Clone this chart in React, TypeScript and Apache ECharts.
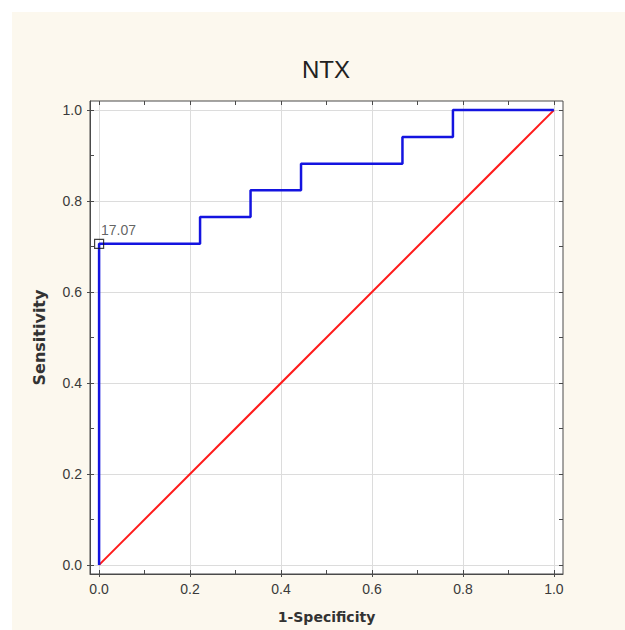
import React, { useEffect, useRef } from "react";
import * as echarts from "echarts";

const chartTitle = "NTX";
const xAxisName = "1-Specificity";
const yAxisName = "Sensitivity";

// ROC curve corner points (1-specificity, sensitivity)
const rocX = [0, 0, 0.222, 0.222, 0.333, 0.333, 0.444, 0.444, 0.667, 0.667, 0.778, 0.778, 1.0];
const rocY = [0, 0.706, 0.706, 0.765, 0.765, 0.824, 0.824, 0.882, 0.882, 0.941, 0.941, 1.0, 1.0];

// reference diagonal
const diagX = [0, 1];
const diagY = [0, 1];

// cut-off marker
const cutX = [0];
const cutY = [0.706];
const cutLabel = ["17.07"];

const majorTicks = [0, 0.2, 0.4, 0.6, 0.8, 1.0];
const minorTicks = [0, 0.1, 0.2, 0.3, 0.4, 0.5, 0.6, 0.7, 0.8, 0.9, 1.0];

export default function App() {
  const ref = useRef<HTMLDivElement>(null);

  useEffect(() => {
    if (!ref.current) return;
    const chart = echarts.init(ref.current, null, { renderer: "svg" });
    const labelFont = { fontFamily: "Liberation Sans, Arial, sans-serif", fontSize: 14, color: "#3a3a3a" };
    const frameColor = "#4a4a4a";

    const mkAxis = (pos: string, primary: boolean, name?: string) => ({
      type: "value",
      position: pos,
      min: -0.02,
      max: 1.02,
      name: name,
      nameLocation: "middle",
      nameGap: pos === "bottom" ? 36 : 43,
      nameTextStyle: {
        fontFamily: "DejaVu Sans, Verdana, sans-serif",
        fontWeight: "bold",
        fontSize: pos === "bottom" ? 14 : 16,
        color: "#333",
      },
      axisLine: { show: primary, onZero: false, lineStyle: { color: frameColor, width: 1 } },
      axisTick: primary
        ? { show: true, inside: false, length: 3, customValues: majorTicks, lineStyle: { color: frameColor } }
        : { show: true, inside: true, length: 4, customValues: minorTicks, lineStyle: { color: frameColor } },
      axisLabel: primary
        ? { show: true, customValues: majorTicks, margin: 8, formatter: (v: number) => v.toFixed(1), ...labelFont }
        : { show: false },
      splitLine: primary
        ? { show: true, lineStyle: { color: "#dcdcdc", width: 1 } }
        : { show: false },
    });

    const option: any = {
      animation: false,
      backgroundColor: "transparent",
      grid: {
        left: 90,
        top: 101,
        right: 62,
        bottom: 56,
        show: true,
        backgroundColor: "#ffffff",
        borderColor: frameColor,
        borderWidth: 1,
      },
      graphic: [
        {
          type: "text",
          x: 326,
          y: 69,
          style: {
            text: chartTitle,
            align: "center",
            verticalAlign: "middle",
            fontFamily: "Liberation Sans, Arial, sans-serif",
            fontSize: 24,
            fill: "#222",
          },
        },
      ],
      xAxis: [
        mkAxis("bottom", true, xAxisName),
        { ...mkAxis("bottom", false), name: undefined },
        { ...mkAxis("top", false), name: undefined },
      ],
      yAxis: [
        mkAxis("left", true, yAxisName),
        { ...mkAxis("left", false), name: undefined },
        { ...mkAxis("right", false), name: undefined },
      ],
      series: [
        {
          type: "line",
          data: diagX.map((x, i) => [x, diagY[i]]),
          showSymbol: false,
          lineStyle: { color: "#ff1a1a", width: 2 },
          z: 3,
        },
        {
          type: "line",
          data: rocX.map((x, i) => [x, rocY[i]]),
          showSymbol: false,
          lineStyle: { color: "#1414e0", width: 2.5 },
          z: 4,
        },
        {
          type: "scatter",
          data: cutX.map((x, i) => ({ value: [x, cutY[i]], name: cutLabel[i] })),
          symbol: "rect",
          symbolSize: 9,
          itemStyle: { color: "rgba(255,255,255,0)", borderColor: "#111", borderWidth: 1.2 },
          label: {
            show: true,
            formatter: (p: any) => p.name,
            position: [7, -9],
            align: "left",
            verticalAlign: "middle",
            ...labelFont,
          },
          z: 10,
        },
      ],
    };
    chart.setOption(option);
    return () => chart.dispose();
  }, []);

  return (
    <div style={{ position: "fixed", left: 0, top: 0, width: 625, height: 630, background: "#ffffff" }}>
      <div style={{ position: "absolute", left: 12, top: 12, right: 0, bottom: 0, background: "#fcf8ee" }} />
      <div ref={ref} style={{ position: "absolute", left: 0, top: 0, width: 625, height: 630 }} />
    </div>
  );
}
